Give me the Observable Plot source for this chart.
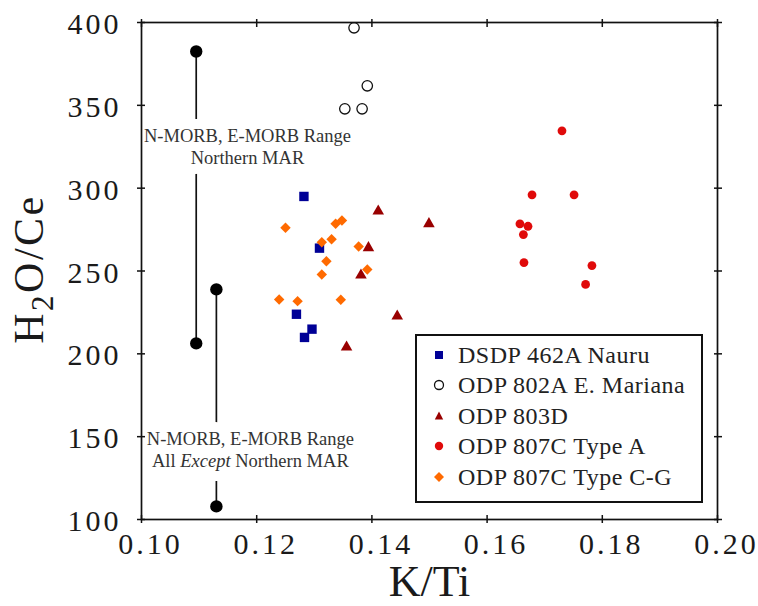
<!DOCTYPE html>
<html>
<head>
<meta charset="utf-8">
<script src="https://cdn.jsdelivr.net/npm/d3@7"></script>
<script src="https://cdn.jsdelivr.net/npm/@observablehq/plot@0.6"></script>
<style>
  body { margin: 0; background: #fff; }
  #chart { position: relative; width: 758px; height: 606px; overflow: hidden; }
  #chart > svg { position: absolute; left: 0; top: 0; }
  g[aria-label="x-axis tick label"] text, g[aria-label="y-axis tick label"] text { letter-spacing: 3px; }
  #legend { position: absolute; left: 415px; top: 334px; width: 288px; height: 169px; border: 2px solid #111;
    box-sizing: border-box; background: #fff; font-family: "Liberation Serif", "Times New Roman", Times, serif; font-size: 24px; color: #222; }
  .row { position: absolute; left: 0; height: 30px; line-height: 30px; white-space: nowrap; }
  .row svg { position: absolute; left: 14px; top: 7px; }
  .row span { position: absolute; left: 41px; top: 0; letter-spacing: 0.5px; }
</style>
</head>
<body>
<div id="chart"><div id="legend"></div></div>
<script>
// ---- axis ticks ----
const xTicks = [0.10, 0.12, 0.14, 0.16, 0.18, 0.20];
const yTicks = [100, 150, 200, 250, 300, 350, 400];

// ---- series (K/Ti, H2O/Ce) ----
const nauruK = [0.1282, 0.1309, 0.1269, 0.1296, 0.1283];
const nauruH = [295.0, 263.8, 223.9, 214.9, 209.9];
const marianaK = [0.1369, 0.1392, 0.1353, 0.1383];
const marianaH = [396.8, 361.8, 347.9, 347.9];
const odp803K = [0.1411, 0.1499, 0.1394, 0.1381, 0.1444, 0.1356];
const odp803H = [286.1, 278.5, 264.0, 247.5, 222.7, 204.0];
const typeAK = [0.1730, 0.1678, 0.1751, 0.1657, 0.1671, 0.1663, 0.1664, 0.1782, 0.1771];
const typeAH = [334.6, 296.0, 296.0, 278.5, 277.0, 272.0, 255.1, 253.3, 241.9];
const typeCGK = [0.1250, 0.1337, 0.1348, 0.1313, 0.1330, 0.1377, 0.1321, 0.1392, 0.1313, 0.1239, 0.1271, 0.1346];
const typeCGH = [276.1, 278.5, 280.5, 267.4, 269.2, 264.8, 255.9, 250.9, 247.9, 232.8, 231.8, 232.6];

const seriesNames = ["DSDP 462A Nauru", "ODP 802A E. Mariana", "ODP 803D", "ODP 807C Type A", "ODP 807C Type C-G"];

// ---- MORB ranges ----
const rangeLabels = ["N-MORB, E-MORB Range\nNorthern MAR", "N-MORB, E-MORB Range\nAll Except Northern MAR"];
const rangeK = [0.1095, 0.1130];
const rangeLow = [206.3, 107.9];
const rangeHigh = [382.5, 238.9];
const rangeTextK = [0.1184, 0.1189];
const rangeTextH = [325.2, 142.3];

// ---- styles ----
const styles = [
  {symbol: "square", fill: "#000096", stroke: "none", r: 5.3},
  {symbol: "circle", fill: "none", stroke: "#111", r: 5.2, strokeWidth: 1.3},
  {symbol: "triangle", fill: "#990000", stroke: "none", r: 4.3},
  {symbol: "circle", fill: "#e00a0a", stroke: "none", r: 4.4},
  {symbol: "diamond2", fill: "#ff6a00", stroke: "none", r: 4.7}
];
const seriesData = [
  d3.zip(nauruK, nauruH),
  d3.zip(marianaK, marianaH),
  d3.zip(odp803K, odp803H),
  d3.zip(typeAK, typeAH),
  d3.zip(typeCGK, typeCGH)
].map(rows => rows.map(([k, h]) => ({k, h})));

const ranges = rangeK.map((k, i) => ({k, lo: rangeLow[i], hi: rangeHigh[i], tk: rangeTextK[i], th: rangeTextH[i], label: rangeLabels[i]}));
const rangeEnds = ranges.flatMap(r => [{k: r.k, h: r.lo}, {k: r.k, h: r.hi}]);

const serif = "Liberation Serif, Times New Roman, serif";
const textOpts = {x: "tk", y: "th", text: "label", fontSize: 18.5, lineHeight: 1.19, fontFamily: serif};

const svg = Plot.plot({
  width: 758, height: 606,
  marginLeft: 141, marginRight: 41, marginTop: 22, marginBottom: 87,
  style: {fontFamily: serif, background: "transparent", color: "#111"},
  x: {domain: [0.10, 0.20], label: null},
  y: {domain: [100, 400], label: null},
  marks: [
    Plot.ruleX(ranges, {x: "k", y1: "lo", y2: "hi", stroke: "#111", strokeWidth: 1.7}),
    // white knock-out behind the range labels, then the labels
    Plot.text(ranges, {...textOpts, fill: "white", stroke: "white", strokeWidth: 20, strokeLinejoin: "round"}),
    Plot.text(ranges, {...textOpts, fill: "#333"}),
    Plot.dot(rangeEnds, {x: "k", y: "h", r: 6.2, fill: "#000"}),
    ...seriesData.map((rows, i) => Plot.dot(rows, {x: "k", y: "h", ...styles[i]})),
    Plot.frame({stroke: "#111", strokeWidth: 1.7}),
    // crossing ticks on all four sides
    Plot.axisX(xTicks, {anchor: "bottom", tickSize: 8, dy: -4, tickFormat: () => "", strokeWidth: 1.5, label: null}),
    Plot.axisX(xTicks, {anchor: "top", tickSize: 8, dy: 4, tickFormat: () => "", strokeWidth: 1.5, label: null}),
    Plot.axisY(yTicks, {anchor: "left", tickSize: 8, dx: 4, tickFormat: () => "", strokeWidth: 1.5, label: null}),
    Plot.axisY(yTicks, {anchor: "right", tickSize: 8, dx: -4, tickFormat: () => "", strokeWidth: 1.5, label: null}),
    // tick labels
    Plot.axisX(xTicks, {anchor: "bottom", tickSize: 0, tickPadding: 13, dx: 9, tickFormat: d3.format(".2f"), fontSize: 30, fontFamily: serif, fill: "#1a1a1a", label: null}),
    Plot.axisY(yTicks, {anchor: "left", tickSize: 0, tickPadding: 20, dy: 2, tickFormat: d3.format("d"), fontSize: 30, fontFamily: serif, fill: "#1a1a1a", label: null}),
    // axis titles
    Plot.text(["K/Ti"], {text: d => d, frameAnchor: "bottom", lineAnchor: "top", dy: 45, fontSize: 44, fill: "#1a1a1a", fontFamily: serif}),
    Plot.text(["H2O/Ce"], {text: d => d, frameAnchor: "left", textAnchor: "middle", rotate: -90, dx: -112, dy: -2, fontSize: 42, fill: "#1a1a1a", fontFamily: serif})
  ]
});

const chart = document.getElementById("chart");
chart.insertBefore(svg, chart.firstChild);

const NS = "http://www.w3.org/2000/svg";
// italic "Except"
svg.querySelectorAll("tspan").forEach(t => {
  if (t.textContent === "All Except Northern MAR") {
    t.textContent = "";
    [["All ", null], ["Except", "italic"], [" Northern MAR", null]].forEach(([s, st]) => {
      const e = document.createElementNS(NS, "tspan");
      if (st) e.setAttribute("font-style", st);
      e.textContent = s;
      t.appendChild(e);
    });
  }
});
// subscript in H2O/Ce
svg.querySelectorAll("text").forEach(t => {
  if (t.textContent === "H2O/Ce") {
    t.textContent = "";
    t.setAttribute("letter-spacing", "2.5");
    const a = document.createElementNS(NS, "tspan"); a.textContent = "H";
    const b = document.createElementNS(NS, "tspan"); b.textContent = "2";
    b.setAttribute("font-size", "31"); b.setAttribute("dy", "10");
    const c = document.createElementNS(NS, "tspan"); c.textContent = "O/Ce"; c.setAttribute("dy", "-10");
    t.append(a, b, c);
  }
});

// ---- legend ----
const legend = document.getElementById("legend");
const rowTops = [3.7, 34, 64.5, 95, 125.5];
const legendSymbols = [
  '<rect x="4" y="4" width="8" height="8" fill="#000096"/>',
  '<circle cx="8" cy="8" r="4.5" fill="none" stroke="#111" stroke-width="1.3"/>',
  '<path d="M8,3.5 L12.2,11.5 L3.8,11.5 Z" fill="#990000"/>',
  '<circle cx="8" cy="8" r="4.2" fill="#e00a0a"/>',
  '<path d="M8,3 L13,8 L8,13 L3,8 Z" fill="#ff6a00"/>'
];
seriesNames.forEach((name, i) => {
  const row = document.createElement("div");
  row.className = "row";
  row.style.top = rowTops[i] + "px";
  row.innerHTML = `<svg width="16" height="16" viewBox="0 0 16 16">${legendSymbols[i]}</svg><span></span>`;
  row.querySelector("span").textContent = name;
  legend.appendChild(row);
});
</script>
</body>
</html>
